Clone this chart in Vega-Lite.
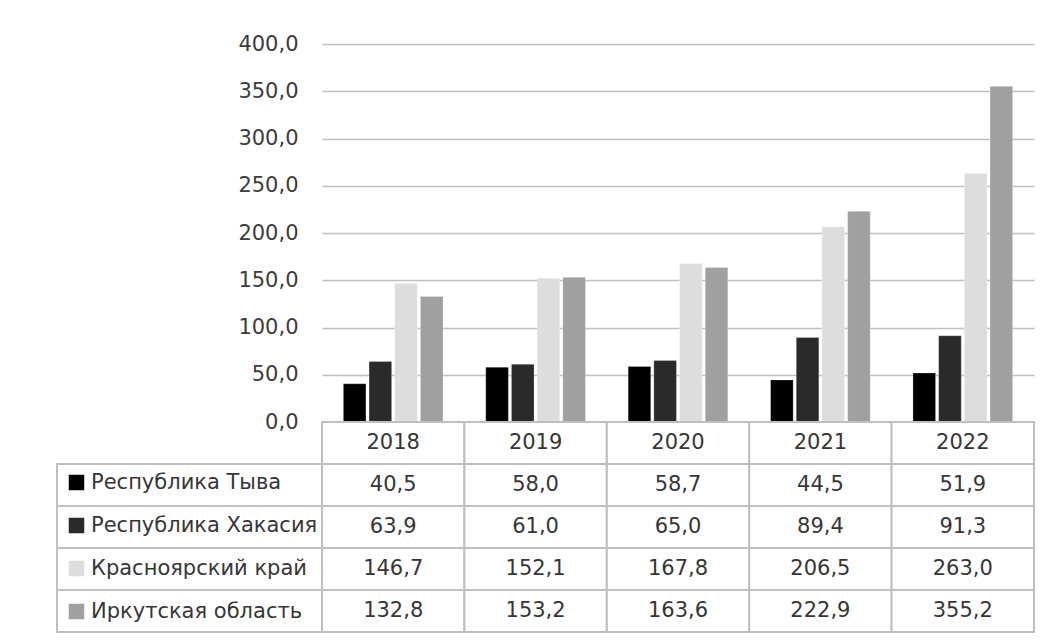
{
  "$schema": "https://vega.github.io/schema/vega-lite/v6.json",
  "padding": {"left": 56, "top": 33, "right": 19, "bottom": 9},
  "background": "white",
  "bounds": "flush",
  "spacing": 0,
  "columns": 2,
  "resolve": {"scale": {"color": "independent"}, "legend": {"color": "independent"}},
  "datasets": {
    "main": [
      {"year": "2018", "series": "Республика Тыва", "value": 40.5},
      {"year": "2019", "series": "Республика Тыва", "value": 58.0},
      {"year": "2020", "series": "Республика Тыва", "value": 58.7},
      {"year": "2021", "series": "Республика Тыва", "value": 44.5},
      {"year": "2022", "series": "Республика Тыва", "value": 51.9},
      {"year": "2018", "series": "Республика Хакасия", "value": 63.9},
      {"year": "2019", "series": "Республика Хакасия", "value": 61.0},
      {"year": "2020", "series": "Республика Хакасия", "value": 65.0},
      {"year": "2021", "series": "Республика Хакасия", "value": 89.4},
      {"year": "2022", "series": "Республика Хакасия", "value": 91.3},
      {"year": "2018", "series": "Красноярский край", "value": 146.7},
      {"year": "2019", "series": "Красноярский край", "value": 152.1},
      {"year": "2020", "series": "Красноярский край", "value": 167.8},
      {"year": "2021", "series": "Красноярский край", "value": 206.5},
      {"year": "2022", "series": "Красноярский край", "value": 263.0},
      {"year": "2018", "series": "Иркутская область", "value": 132.8},
      {"year": "2019", "series": "Иркутская область", "value": 153.2},
      {"year": "2020", "series": "Иркутская область", "value": 163.6},
      {"year": "2021", "series": "Иркутская область", "value": 222.9},
      {"year": "2022", "series": "Иркутская область", "value": 355.2}
    ]
  },
  "concat": [
    {
      "width": 265,
      "height": 378,
      "data": {"values": []},
      "mark": "point"
    },
    {
      "width": 712,
      "height": 378,
      "data": {"name": "main"},
      "mark": {"type": "bar", "stroke": "#ffffff", "strokeOpacity": 0.25, "strokeWidth": 1},
      "encoding": {
        "x": {"field": "year", "type": "nominal", "axis": null, "scale": {"paddingInner": 0.3, "paddingOuter": 0.15}},
        "xOffset": {"field": "series", "type": "nominal", "scale": {"domain": ["Республика Тыва", "Республика Хакасия", "Красноярский край", "Иркутская область"], "paddingInner": 0.12, "paddingOuter": 0}},
        "y": {
          "field": "value", "type": "quantitative",
          "scale": {"domain": [0, 400], "nice": false},
          "axis": {
            "values": [0, 50, 100, 150, 200, 250, 300, 350, 400],
            "format": ".1f", "title": null, "domain": false, "ticks": false,
            "labelPadding": 24, "labelFontSize": 21, "labelFont": "DejaVu Sans", "labelColor": "#3c3c3c",
            "gridColor": "#c0c0c0", "gridWidth": 1.5
          }
        },
        "color": {
          "field": "series", "type": "nominal",
          "scale": {"domain": ["Республика Тыва", "Республика Хакасия", "Красноярский край", "Иркутская область"], "range": ["#000000", "#2a2a2a", "#dddddd", "#a0a0a0"]},
          "legend": null
        }
      }
    },
    {
      "width": 265,
      "height": 210,
      "data": {"name": "main"},
      "transform": [{"filter": "datum.year === '2018'"}],
      "encoding": {
        "y": {"field": "series", "type": "nominal", "axis": null,
              "scale": {"domain": ["Год", "Республика Тыва", "Республика Хакасия", "Красноярский край", "Иркутская область"], "paddingInner": 0, "paddingOuter": 0}}
      },
      "layer": [
        {"mark": {"type": "rect", "fill": "white", "stroke": "#bfbfbf", "strokeWidth": 2}, "encoding": {}},
        {
          "mark": {"type": "square", "opacity": 0},
          "encoding": {
            "color": {
              "field": "series", "type": "nominal",
              "scale": {"domain": ["Республика Тыва", "Республика Хакасия", "Красноярский край", "Иркутская область"], "range": ["#000000", "#2a2a2a", "#dddddd", "#a0a0a0"]},
              "legend": {
                "orient": "none", "legendX": 9, "legendY": 50, "title": null, "padding": 0,
                "symbolType": "square", "symbolSize": 240, "symbolOpacity": 1, "symbolStrokeWidth": 0,
                "labelFontSize": 21, "labelFont": "DejaVu Sans", "labelColor": "#363636",
                "labelOffset": 4, "rowPadding": 21, "labelLimit": 300
              }
            }
          }
        }
      ]
    },
    {
      "width": 712,
      "height": 210,
      "data": {"name": "main"},
      "encoding": {
        "x": {"field": "year", "type": "nominal", "axis": null, "scale": {"paddingInner": 0, "paddingOuter": 0}}
      },
      "layer": [
        {
          "mark": {"type": "rect", "fill": "white", "stroke": "#bfbfbf", "strokeWidth": 2},
          "encoding": {
            "y": {"field": "series", "type": "nominal", "axis": null,
                  "scale": {"domain": ["Год", "Республика Тыва", "Республика Хакасия", "Красноярский край", "Иркутская область"], "paddingInner": 0, "paddingOuter": 0}}
          }
        },
        {
          "transform": [{"filter": "datum.series === 'Республика Тыва'"}],
          "mark": {"type": "rect", "fill": "white", "stroke": "#bfbfbf", "strokeWidth": 2},
          "encoding": {
            "y": {"datum": "Год", "type": "nominal", "axis": null,
                  "scale": {"domain": ["Год", "Республика Тыва", "Республика Хакасия", "Красноярский край", "Иркутская область"], "paddingInner": 0, "paddingOuter": 0}}
          }
        },
        {
          "mark": {"type": "text", "font": "DejaVu Sans", "fontSize": 21, "color": "#363636"},
          "encoding": {
            "y": {"field": "series", "type": "nominal", "axis": null,
                  "scale": {"domain": ["Год", "Республика Тыва", "Республика Хакасия", "Красноярский край", "Иркутская область"], "paddingInner": 0, "paddingOuter": 0}},
            "text": {"field": "value", "type": "quantitative", "format": ".1f"}
          }
        },
        {
          "transform": [{"filter": "datum.series === 'Республика Тыва'"}],
          "mark": {"type": "text", "font": "DejaVu Sans", "fontSize": 21, "color": "#363636"},
          "encoding": {
            "y": {"datum": "Год", "type": "nominal", "axis": null,
                  "scale": {"domain": ["Год", "Республика Тыва", "Республика Хакасия", "Красноярский край", "Иркутская область"], "paddingInner": 0, "paddingOuter": 0}},
            "text": {"field": "year", "type": "nominal"}
          }
        }
      ]
    }
  ],
  "config": {
    "view": {"stroke": null},
    "font": "DejaVu Sans",
    "locale": {"number": {"decimal": ",", "thousands": " ", "grouping": [3], "currency": ["", " руб."]}}
  }
}
